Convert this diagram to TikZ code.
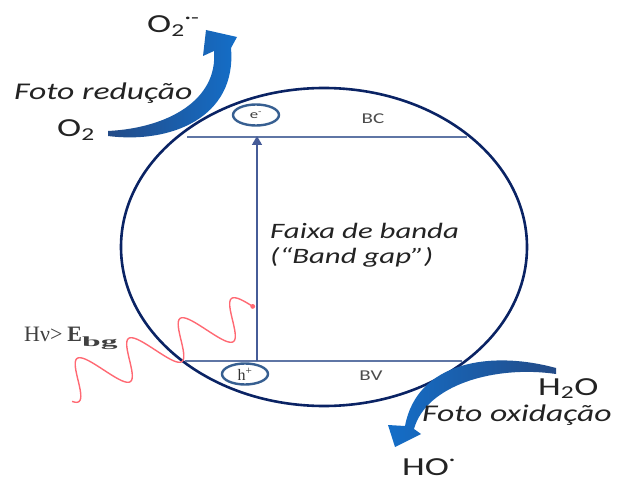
\documentclass[tikz,border=0pt]{standalone}
\usepackage{fontspec}
\usepackage{graphicx}
\usetikzlibrary{arrows.meta,shapes.geometric}
\newfontfamily\cali{Carlito}[FakeStretch=1.4]
\newfontfamily\seri{Liberation Serif}
\definecolor{navy}{RGB}{10,35,100}
\definecolor{bandc}{RGB}{95,118,165}
\definecolor{varr}{RGB}{70,92,152}
\definecolor{elc}{RGB}{55,95,145}
\definecolor{txt}{RGB}{35,35,35}
\definecolor{bdark}{RGB}{35,75,135}
\definecolor{bbright}{RGB}{20,110,200}
\definecolor{wave}{RGB}{255,105,115}
\begin{document}
\begin{tikzpicture}[x=1pt,y=-1pt,
  lbl/.style={inner sep=0pt, text=txt, font={\cali\itshape\fontsize{24}{24}\selectfont}},
  lblb/.style={inner sep=0pt, text=txt, font={\cali\itshape\fontsize{22}{22}\selectfont}},
  chem/.style={inner sep=0pt, text=txt, font={\cali\fontsize{26}{26}\selectfont}},
  bandlbl/.style={inner sep=0pt, text=black!70, font={\cali\fontsize{15}{15}\selectfont}},
  carrier/.style={draw=elc, line width=2.4pt, ellipse, inner sep=0pt, minimum width=46pt, minimum height=21pt},
  bandline/.style={draw=bandc, line width=2pt}
]
\useasboundingbox (0,0) rectangle (627,484);

% particle
\node[draw=navy, line width=2.6pt, ellipse, minimum width=406pt, minimum height=318pt, inner sep=0pt] (particle) at (324,247) {};

% band lines
\coordinate (bcL) at (187,137);
\coordinate (bcR) at (467,137);
\coordinate (bvL) at (185,361);
\coordinate (bvR) at (462,361);
\draw[bandline] (bcL) -- (bcR);
\draw[bandline] (bvL) -- (bvR);

% band gap arrow
\coordinate (gapB) at (257,361);
\coordinate (gapT) at (257,136);
\draw[varr, line width=1.6pt, -{Triangle[length=9pt,width=10pt]}] (gapB) -- (gapT);

% carriers
\node[carrier, font={\cali\fontsize{12}{12}\selectfont}, text=black!75] (eminus) at (256,115) {e\textsuperscript{-}};
\node[carrier, font={\seri\fontsize{16}{16}\selectfont}, text=black!80] (hplus) at (245,374) {h\textsuperscript{+}};

\node[bandlbl] (bc) at (373,119) {BC};
\node[bandlbl] (bv) at (371,376) {BV};

% red wave
\draw[wave, line width=1.4pt, smooth, samples=220, domain=-120:1245, variable=\t]
  plot ({78+\t/360*51.5-13*sin(\t)}, {380-\t/360*20-17*sin(\t)}) coordinate (waveEnd);
\fill[wave] (waveEnd) circle (2.4pt);

% curved arrows
\shade[left color=bdark, right color=bbright]
  (108,136) .. controls (170,144) and (237,118) .. (231,48)
  -- (237,37) -- (206,30) -- (203,56) -- (214,51)
  .. controls (218,100) and (168,128) .. (108,131) -- cycle;
\shade[left color=bbright, right color=bdark]
  (556,368) .. controls (490,350) and (417,362) .. (405,426)
  -- (388,425) -- (395,447) -- (421,434) -- (414,429)
  .. controls (426,385) and (495,365) .. (556,374) -- cycle;

% labels
\node[chem, anchor=base west] (o2top) at (147,33) {O\textsubscript{2}\textsuperscript{·-}};
\node[lbl, anchor=base west] (fred) at (14,100) {Foto redução};
\node[chem, anchor=base west] (o2) at (57,137) {O\textsubscript{2}};
\node[lblb, anchor=base west] (faixa) at (270,238) {Faixa de banda};
\node[lblb, anchor=base west] (gap) at (270,263) {(“Band gap”)};
\node[chem, anchor=base west] (h2o) at (538,395) {H\textsubscript{2}O};
\node[lbl, anchor=base west] (fox) at (422,421) {Foto oxidação};
\node[chem, anchor=base west] (ho) at (402,475) {HO\textsuperscript{·}};
\node[inner sep=0pt, anchor=base west, text=black!75, font={\seri\fontsize{22}{22}\selectfont}] (hv) at (24,341)
  {Hν>\hspace{5pt}\textbf{E}\raisebox{-5pt}{\fontsize{14}{14}\selectfont\scalebox{2.4}[1]{\textbf{bg}}}};
\end{tikzpicture}
\end{document}
